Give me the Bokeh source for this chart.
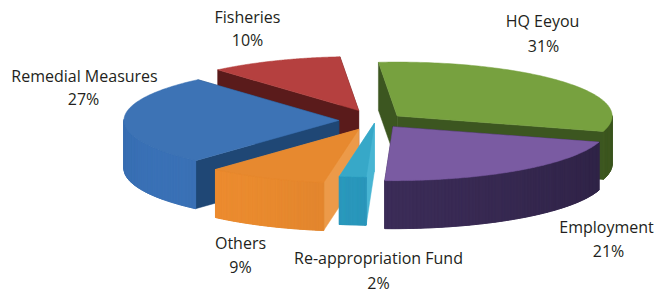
import numpy as np
from bokeh.plotting import figure
from bokeh.models import Range1d
from bokeh.core.properties import value
from bokeh.embed import file_html
from bokeh.resources import INLINE

# ---- data ----
categories = ["HQ Eeyou", "Employment", "Re-appropriation Fund", "Others", "Remedial Measures", "Fisheries"]
shares = [31, 21, 2, 9, 27, 10]
pct_labels = ["31%", "21%", "2%", "9%", "27%", "10%"]

# ---- styles ----
top_colors = ["#77A13F", "#7A5BA2", "#37A8C8", "#E7892F", "#3D73B5", "#B5403F"]
wall_colors = ["#4B6B27", "#3B2C57", "#2B95B8", "#DC832D", "#3669A9", "#6A2222"]
cut_colors = ["#3C5620", "#2F2346", "#48B5D3", "#EC9A49", "#1F4775", "#5A1B1B"]
explode = [0.13, 0.14, 0.05, 0.18, 0.17, 0.20]
name_pos = [(542, 20), (606, 226), (378, 257), (240, 242), (84, 75), (247, 16)]
pct_pos = [(543, 45), (608, 250), (378, 282), (240, 266), (83, 98), (247, 39)]

W, H = 661, 294
p = figure(width=W, height=H, x_range=Range1d(0, W), y_range=Range1d(0, H),
           output_backend="svg", toolbar_location=None, min_border=0,
           x_axis_location=None, y_axis_location=None)
p.grid.visible = False
p.outline_line_color = None

cx, cy = 375.0, H - 120.0
rx, ry, depth = 215.0, 54.0, 48.0
start = 95.0


def shade(hexc, f):
    h = hexc.lstrip("#")
    r, g, b = int(h[0:2], 16), int(h[2:4], 16), int(h[4:6], 16)
    r, g, b = [max(0, min(255, int(c * f))) for c in (r, g, b)]
    return "#%02x%02x%02x" % (r, g, b)


slices = []
cum = 0.0
for i, s in enumerate(shares):
    a_hi = start - 360.0 * cum / 100.0
    a_lo = a_hi - 360.0 * s / 100.0
    cum += s
    mid = np.radians((a_hi + a_lo) / 2)
    ox = cx + explode[i] * rx * np.cos(mid)
    oy = cy + explode[i] * ry * np.sin(mid)
    slices.append(dict(i=i, lo=np.radians(a_lo), hi=np.radians(a_hi), mid=mid, ox=ox, oy=oy))

order = sorted(slices, key=lambda d: -np.sin(d["mid"]))

for d in order:
    i, lo, hi, ox, oy = d["i"], d["lo"], d["hi"], d["ox"], d["oy"]

    def P(t, z, ox=ox, oy=oy):
        return ox + rx * np.cos(t), oy + ry * np.sin(t) - z

    # radial walls, back-facing first
    walls = []
    for ang, nrm in ((lo, lo - np.pi / 2), (hi, hi + np.pi / 2)):
        x1, y1 = P(ang, 0)
        x2, y2 = P(ang, depth)
        poly = ([ox, x1, x2, ox], [oy, y1, y2, oy - depth])
        walls.append((np.sin(nrm), poly))
    walls.sort(key=lambda w: -w[0])
    for _, (xs, ys) in walls:
        p.patch(xs, ys, fill_color=cut_colors[i], line_color=cut_colors[i], line_width=0.5)

    # outer wall (front part): base polygon then shaded strips
    ts = np.linspace(lo, hi, 80)
    front = [t for t in ts if np.sin(t) < 0.02]
    if len(front) > 1:
        fr = np.array(front)
        bx = list(ox + rx * np.cos(fr)) + list(ox + rx * np.cos(fr[::-1]))
        by = list(oy + ry * np.sin(fr)) + list(oy + ry * np.sin(fr[::-1]) - depth)
        p.patch(bx, by, fill_color=wall_colors[i], line_color=wall_colors[i], line_width=0.5)
        xs_l, ys_l, cols = [], [], []
        for t0, t1 in zip(fr[:-1], fr[1:]):
            tm = (t0 + t1) / 2
            a0 = P(t0, 0); a1 = P(t1, 0); b1 = P(t1, depth); b0 = P(t0, depth)
            xs_l.append([a0[0], a1[0], b1[0], b0[0]])
            ys_l.append([a0[1], a1[1], b1[1], b0[1]])
            f = 0.92 + 0.16 * np.cos(tm - np.radians(215))
            cols.append(shade(wall_colors[i], f))
        p.patches(xs_l, ys_l, fill_color=cols, line_color=cols, line_width=0.8)

    # top face
    tt = np.linspace(lo, hi, 120)
    xs = [ox] + list(ox + rx * np.cos(tt)) + [ox]
    ys = [oy] + list(oy + ry * np.sin(tt)) + [oy]
    p.patch(xs, ys, fill_color=top_colors[i], line_color=top_colors[i], line_width=0.5)

# labels
p.text(x=[q[0] for q in name_pos], y=[H - q[1] for q in name_pos], text=categories,
       text_align="center", text_baseline="middle",
       text_font=value("Open Sans"), text_font_size="16px", text_color="#231F20")
p.text(x=[q[0] for q in pct_pos], y=[H - q[1] for q in pct_pos], text=pct_labels,
       text_align="center", text_baseline="middle",
       text_font=value("Open Sans"), text_font_size="16px", text_color="#231F20")

open("out.html", "w").write(file_html(p, INLINE))
